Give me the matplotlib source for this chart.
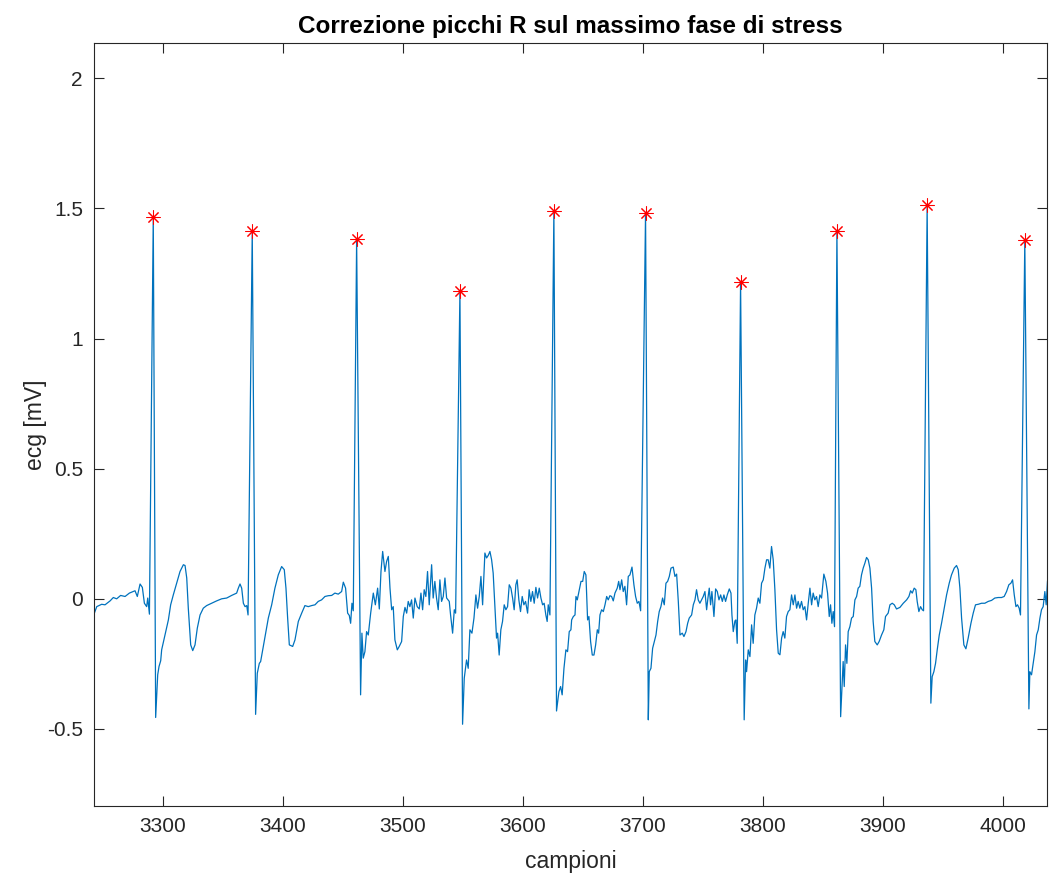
import matplotlib
matplotlib.use("Agg")
import matplotlib.pyplot as plt

plt.rcParams['font.family'] = ['Liberation Sans', 'DejaVu Sans']

# ecg trace (sample index, mV)
campioni = [
    3242.5, 3244.8, 3248.9, 3251.7, 3255.9, 3258.6, 3261.4, 3264.7, 3268.4, 3272.0,
    3276.7, 3278.6, 3280.9, 3282.8, 3284.5, 3286.4, 3287.3, 3288.7, 3291.9, 3293.9,
    3295.6, 3296.7, 3298.1, 3298.9, 3301.7, 3304.5, 3306.4, 3308.6, 3311.4, 3314.2,
    3317.0, 3318.4, 3319.8, 3321.1, 3323.1, 3324.8, 3326.7, 3328.6, 3330.9, 3333.6,
    3336.4, 3340.6, 3344.7, 3348.9, 3353.1, 3357.2, 3361.4, 3362.8, 3364.2, 3365.6,
    3367.0, 3368.4, 3369.8, 3370.9, 3374.4, 3377.2, 3378.6, 3380.3, 3381.4, 3383.1,
    3385.0, 3387.8, 3390.6, 3393.3, 3396.1, 3398.9, 3401.1, 3402.5, 3403.9, 3405.3,
    3408.1, 3410.0, 3412.8, 3415.6, 3418.3, 3421.1, 3423.9, 3426.7, 3429.4, 3432.2,
    3435.0, 3437.8, 3440.6, 3443.3, 3446.1, 3448.9, 3450.3, 3452.2, 3453.9, 3455.3,
    3456.4, 3457.5, 3458.6, 3461.4, 3464.7, 3465.8, 3466.9, 3468.3, 3469.7, 3471.1,
    3473.1, 3475.3, 3477.0, 3478.9, 3480.3, 3481.7, 3483.1, 3485.0, 3486.4, 3487.8,
    3489.2, 3490.6, 3491.9, 3493.3, 3495.3, 3496.9, 3498.9, 3500.3, 3501.7, 3503.1,
    3504.4, 3505.8, 3507.2, 3508.6, 3510.0, 3511.9, 3513.6, 3515.0, 3516.4, 3517.7,
    3519.1, 3520.5, 3521.9, 3523.9, 3525.2, 3526.6, 3528.0, 3529.4, 3530.8, 3532.2,
    3533.6, 3535.0, 3536.4, 3538.6, 3539.7, 3541.4, 3542.8, 3543.9, 3547.5, 3549.7,
    3551.1, 3553.0, 3554.4, 3555.8, 3557.5, 3559.2, 3560.8, 3562.2, 3563.6, 3565.0,
    3566.4, 3568.3, 3569.7, 3571.1, 3572.5, 3573.9, 3575.2, 3576.6, 3578.0, 3578.9,
    3580.2, 3581.6, 3583.0, 3584.4, 3585.8, 3587.2, 3588.6, 3590.0, 3591.4, 3592.7,
    3594.1, 3595.2, 3596.6, 3598.0, 3599.4, 3600.8, 3602.2, 3603.9, 3605.2, 3606.6,
    3608.0, 3609.4, 3610.8, 3612.2, 3613.6, 3615.0, 3616.4, 3617.7, 3619.1, 3620.2,
    3621.1, 3622.5, 3625.8, 3628.0, 3630.0, 3631.4, 3632.7, 3634.2, 3635.8, 3637.2,
    3638.6, 3640.0, 3640.6, 3642.0, 3643.4, 3644.2, 3645.3, 3646.7, 3648.4, 3649.8,
    3651.1, 3652.5, 3653.9, 3655.0, 3656.4, 3657.8, 3659.2, 3660.6, 3662.0, 3663.1,
    3664.2, 3665.6, 3667.0, 3668.4, 3669.8, 3671.1, 3672.5, 3673.9, 3675.3, 3676.7,
    3678.6, 3679.8, 3680.9, 3682.3, 3683.6, 3685.0, 3686.4, 3687.8, 3689.2, 3690.9,
    3692.5, 3693.9, 3695.3, 3696.7, 3698.1, 3702.2, 3704.5, 3705.3, 3706.7, 3708.1,
    3709.5, 3710.9, 3712.3, 3713.6, 3715.0, 3716.4, 3717.8, 3719.2, 3720.6, 3722.0,
    3723.4, 3725.3, 3726.7, 3728.1, 3729.5, 3730.9, 3732.8, 3734.2, 3735.9, 3737.3,
    3738.6, 3740.6, 3742.0, 3743.4, 3744.7, 3746.1, 3747.5, 3748.9, 3750.3, 3751.7,
    3753.1, 3754.2, 3755.3, 3756.4, 3757.5, 3759.2, 3760.6, 3762.0, 3763.4, 3764.8,
    3766.2, 3767.5, 3768.9, 3770.3, 3772.0, 3773.4, 3774.2, 3775.3, 3776.7, 3777.5,
    3778.6, 3781.4, 3784.4, 3785.6, 3786.4, 3787.8, 3789.2, 3790.6, 3791.9, 3793.3,
    3794.7, 3796.1, 3797.5, 3798.9, 3800.3, 3801.7, 3803.1, 3804.4, 3805.8, 3807.2,
    3808.6, 3810.0, 3811.4, 3812.8, 3814.2, 3815.6, 3816.9, 3818.3, 3819.7, 3821.1,
    3822.5, 3823.9, 3825.3, 3826.7, 3828.1, 3829.4, 3830.8, 3832.2, 3833.6, 3835.0,
    3836.4, 3837.8, 3839.2, 3840.6, 3841.9, 3843.3, 3844.7, 3846.1, 3847.5, 3848.9,
    3850.8, 3852.5, 3853.9, 3855.3, 3856.4, 3857.5, 3858.6, 3859.7, 3861.7, 3864.8,
    3866.9, 3867.8, 3868.9, 3870.0, 3871.1, 3872.5, 3873.9, 3875.3, 3876.7, 3878.1,
    3879.4, 3880.8, 3882.2, 3883.6, 3885.0, 3886.4, 3887.8, 3889.2, 3890.6, 3891.9,
    3893.3, 3895.3, 3896.9, 3898.9, 3900.8, 3902.2, 3904.4, 3905.9, 3907.8, 3909.5,
    3911.4, 3914.2, 3917.0, 3919.8, 3921.7, 3923.1, 3924.5, 3926.1, 3927.5, 3928.6,
    3930.0, 3931.4, 3932.8, 3933.9, 3936.9, 3940.0, 3941.1, 3942.5, 3943.9, 3945.3,
    3947.0, 3948.9, 3951.1, 3953.1, 3955.3, 3957.2, 3959.5, 3961.4, 3962.8, 3964.2,
    3965.6, 3967.5, 3969.2, 3971.1, 3973.4, 3975.3, 3977.2, 3979.5, 3982.2, 3985.0,
    3987.8, 3990.6, 3993.3, 3996.1, 3998.9, 4001.1, 4003.1, 4005.0, 4006.7, 4008.1,
    4009.5, 4010.9, 4012.2, 4013.6, 4014.7, 4018.3, 4021.7, 4022.5, 4023.9, 4025.3,
    4026.7, 4028.1, 4029.5, 4030.9, 4032.2, 4033.6, 4035.0, 4036.1, 4037.2,
]
ecg = [
    -0.059, -0.030, -0.021, -0.023, -0.008, 0.005, 0.000, 0.013, 0.009, 0.022,
    0.031, 0.009, 0.057, 0.044, -0.017, -0.030, 0.003, -0.059, 1.468, -0.456,
    -0.292, -0.260, -0.238, -0.196, -0.138, -0.081, -0.023, 0.015, 0.060, 0.105,
    0.131, 0.128, 0.080, -0.036, -0.177, -0.199, -0.177, -0.113, -0.062, -0.036,
    -0.026, -0.017, -0.008, 0.000, 0.003, 0.013, 0.022, 0.041, 0.057, 0.041,
    -0.017, -0.030, -0.026, -0.062, 1.415, -0.444, -0.286, -0.248, -0.241, -0.196,
    -0.145, -0.074, -0.023, 0.041, 0.092, 0.124, 0.112, 0.041, -0.074, -0.177,
    -0.183, -0.158, -0.087, -0.055, -0.026, -0.030, -0.026, -0.023, -0.010, -0.004,
    0.009, 0.012, 0.013, 0.022, 0.018, 0.028, 0.064, 0.041, -0.055, -0.064,
    -0.094, -0.017, -0.046, 1.381, -0.369, -0.132, -0.228, -0.203, -0.126, -0.139,
    -0.055, 0.022, -0.023, 0.041, -0.039, 0.105, 0.182, 0.105, 0.144, 0.163,
    0.041, -0.042, -0.030, -0.158, -0.196, -0.183, -0.164, -0.068, -0.033, -0.055,
    -0.010, -0.030, -0.004, -0.074, 0.003, -0.030, -0.039, 0.022, -0.042, 0.035,
    0.009, 0.105, -0.023, 0.131, 0.003, 0.067, 0.003, -0.042, 0.073, -0.010,
    0.009, 0.080, 0.003, -0.010, -0.062, -0.132, -0.042, -0.055, 1.182, -0.482,
    -0.305, -0.235, -0.267, -0.119, -0.132, -0.074, 0.015, -0.036, 0.009, 0.086,
    -0.023, 0.176, 0.157, 0.167, 0.182, 0.150, 0.099, -0.023, -0.151, -0.132,
    -0.216, -0.119, -0.087, -0.023, -0.042, -0.030, 0.054, 0.041, 0.003, -0.042,
    0.054, 0.073, -0.004, -0.049, 0.009, -0.023, -0.010, -0.055, 0.035, -0.010,
    0.028, -0.017, 0.044, 0.003, 0.041, 0.003, -0.023, -0.017, -0.062, -0.087,
    -0.023, -0.062, 1.492, -0.431, -0.357, -0.337, -0.369, -0.267, -0.196, -0.203,
    -0.126, -0.119, -0.081, -0.068, -0.062, 0.009, -0.004, 0.028, 0.067, 0.067,
    0.105, 0.092, -0.081, -0.068, -0.164, -0.216, -0.216, -0.177, -0.119, -0.132,
    -0.062, -0.042, -0.049, -0.023, 0.009, -0.004, 0.012, 0.009, -0.008, 0.022,
    0.041, 0.067, 0.035, 0.073, 0.028, 0.048, -0.023, 0.086, 0.092, 0.122,
    0.054, 0.009, -0.017, -0.010, -0.046, 1.483, -0.465, -0.280, -0.267, -0.190,
    -0.164, -0.139, -0.087, -0.049, -0.030, 0.003, -0.023, 0.060, 0.067, 0.086,
    0.118, 0.122, 0.086, 0.095, -0.010, -0.139, -0.132, -0.145, -0.126, -0.094,
    -0.074, -0.062, -0.023, -0.004, 0.035, -0.004, -0.017, -0.004, 0.009, 0.028,
    -0.042, 0.003, 0.041, -0.023, 0.028, -0.068, 0.038, 0.028, -0.004, 0.015,
    -0.010, 0.015, -0.010, 0.015, 0.038, 0.022, -0.062, -0.126, -0.085, -0.081,
    -0.171, 1.218, -0.465, -0.235, -0.280, -0.196, -0.222, -0.100, -0.171, -0.062,
    -0.036, 0.003, -0.017, 0.060, 0.073, 0.118, 0.150, 0.150, 0.118, 0.201,
    0.150, 0.035, -0.119, -0.209, -0.215, -0.151, -0.126, -0.151, -0.068, -0.049,
    -0.042, 0.015, -0.023, 0.015, -0.036, -0.010, -0.036, -0.010, -0.042, -0.030,
    -0.081, -0.017, 0.041, -0.023, 0.022, -0.004, 0.009, -0.030, 0.015, 0.003,
    0.095, 0.067, 0.022, -0.068, -0.023, -0.094, -0.049, -0.107, 1.415, -0.453,
    -0.241, -0.337, -0.177, -0.248, -0.126, -0.107, -0.074, -0.068, -0.004, 0.009,
    0.041, 0.048, 0.092, 0.118, 0.137, 0.159, 0.150, 0.118, 0.041, -0.087,
    -0.164, -0.177, -0.164, -0.139, -0.119, -0.068, -0.055, -0.023, -0.017, -0.023,
    -0.039, -0.033, -0.017, -0.004, 0.009, 0.031, 0.022, 0.041, 0.035, -0.010,
    -0.049, -0.030, -0.042, -0.046, 1.513, -0.401, -0.299, -0.280, -0.248, -0.196,
    -0.139, -0.094, -0.036, 0.015, 0.060, 0.092, 0.118, 0.128, 0.112, 0.041,
    -0.074, -0.177, -0.192, -0.151, -0.094, -0.055, -0.023, -0.021, -0.017, -0.017,
    -0.010, -0.006, 0.003, 0.005, 0.005, 0.009, 0.028, 0.054, 0.060, 0.073,
    0.015, -0.030, -0.023, -0.036, -0.062, 1.377, -0.423, -0.280, -0.292, -0.248,
    -0.203, -0.139, -0.119, -0.074, -0.042, -0.030, 0.028, -0.023, 0.067,
]

# corrected R peaks
picchi_x = [3291.9, 3374.4, 3461.4, 3547.5, 3625.8, 3702.2, 3781.4, 3861.7, 3936.9, 4018.3]
picchi_y = [1.468, 1.415, 1.381, 1.182, 1.492, 1.483, 1.218, 1.415, 1.513, 1.377]

xticks = [3300, 3400, 3500, 3600, 3700, 3800, 3900, 4000]
yticks = [-0.5, 0, 0.5, 1, 1.5, 2]
ytick_labels = ['-0.5', '0', '0.5', '1', '1.5', '2']

grigio = '#262626'

fig = plt.figure(figsize=(10.49, 8.77), dpi=100)
ax = fig.add_axes([0.0896, 0.081, 0.9085, 0.8703])

ax.plot(campioni, ecg, color='#0072BD', linewidth=0.9)
ax.plot(picchi_x, picchi_y, linestyle='none', marker=(8, 2, 0), markersize=10,
        markeredgecolor='red', markeredgewidth=0.75)

ax.set_xlim(3242.5, 4036.8)
ax.set_ylim(-0.796, 2.137)
ax.set_xticks(xticks)
ax.set_xticklabels([str(t) for t in xticks])
ax.set_yticks(yticks)
ax.set_yticklabels(ytick_labels)

ax.tick_params(direction='in', length=7, width=0.8, colors=grigio, labelsize=15,
               top=True, right=True, pad=8)
for s in ax.spines.values():
    s.set_color(grigio)
    s.set_linewidth(0.8)

ax.set_title('Correzione picchi R sul massimo fase di stress', fontsize=17.5,
             fontweight='bold', color='black', pad=7)
ax.set_xlabel('campioni', fontsize=16.5, color=grigio, labelpad=10)
ax.set_ylabel('ecg [mV]', fontsize=16.5, color=grigio, labelpad=0)

fig.savefig('out.png', dpi=100)
